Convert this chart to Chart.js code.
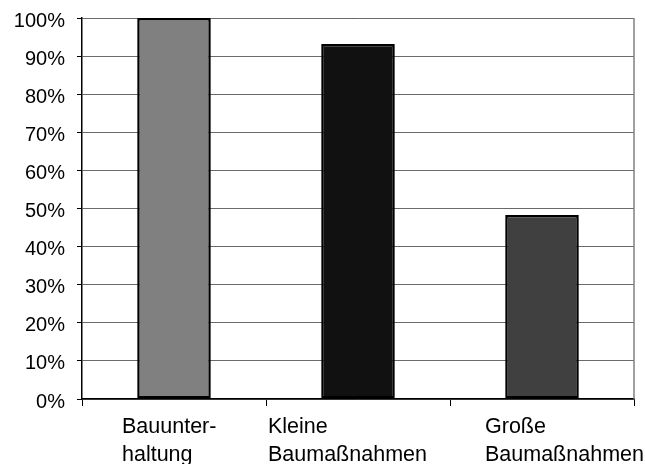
<!DOCTYPE html>
<html>
<head>
<meta charset="utf-8">
<script src="https://cdn.jsdelivr.net/npm/chart.js@4/dist/chart.umd.min.js"></script>
<style>
  html, body { margin: 0; padding: 0; background: #fff; }
  canvas { display: block; }
</style>
</head>
<body>
<canvas id="chart" width="645" height="464"></canvas>
<script>
// Categories (wrapped onto two lines) and their shares in percent
const categories = [
  ['Bauunter-', 'haltung'],
  ['Kleine', 'Baumaßnahmen'],
  ['Große', 'Baumaßnahmen']
];
const shares = [100, 93.2, 48.3];
const barColors = ['#808080', '#111111', '#404040'];
const yTicks = [0, 10, 20, 30, 40, 50, 60, 70, 80, 90, 100];

const FONT = '"Liberation Sans", Arial, sans-serif';

// Horizontal shift of each category label's left edge from its category centre
const labelShift = [-52, -90, -57];

const categoryLabels = {
  id: 'categoryLabels',
  afterDraw(chart) {
    const { ctx, scales: { x }, chartArea } = chart;
    ctx.save();
    ctx.font = '21.5px ' + FONT;
    ctx.fillStyle = '#000';
    ctx.textAlign = 'left';
    ctx.textBaseline = 'alphabetic';
    chart.data.labels.forEach((lines, i) => {
      const left = x.getPixelForTick(i) + labelShift[i];
      lines.forEach((line, j) => {
        ctx.fillText(line, left, chartArea.bottom + 34 + j * 28);
      });
    });
    ctx.restore();
  }
};

const rightFrame = {
  id: 'rightFrame',
  beforeDatasetsDraw(chart) {
    const { ctx, chartArea: a } = chart;
    ctx.save();
    ctx.strokeStyle = '#808080';
    ctx.lineWidth = 1.5;
    ctx.beginPath();
    ctx.moveTo(a.right, a.top);
    ctx.lineTo(a.right, a.bottom);
    ctx.stroke();
    ctx.restore();
  }
};

new Chart(document.getElementById('chart'), {
  type: 'bar',
  data: {
    labels: categories,
    datasets: [{
      data: shares,
      backgroundColor: barColors,
      borderColor: '#000',
      borderWidth: 2.5,
      borderSkipped: false,
      categoryPercentage: 1,
      barPercentage: 0.4
    }]
  },
  options: {
    responsive: false,
    animation: false,
    layout: { padding: { left: 0, right: 11, top: 18, bottom: 0 } },
    plugins: {
      legend: { display: false },
      tooltip: { enabled: false }
    },
    scales: {
      x: {
        offset: true,
        afterFit(scale) { scale.height = 65; },
        grid: {
          offset: true,
          drawOnChartArea: false,
          drawTicks: true,
          tickLength: 7,
          tickColor: '#000',
          lineWidth: 1
        },
        border: { display: true, color: '#000', width: 1.5 },
        ticks: { display: false }
      },
      y: {
        min: 0,
        max: 100,
        afterFit(scale) {
          scale.width = 82;
          scale.paddingTop = 0;
          scale.paddingBottom = 0;
        },
        afterBuildTicks(scale) { scale.ticks = yTicks.map(v => ({ value: v })); },
        grid: {
          color: '#6a6a6a',
          lineWidth: 1,
          tickLength: 5,
          tickColor: '#000'
        },
        border: { display: true, color: '#000', width: 1.5 },
        ticks: {
          padding: 12,
          labelOffset: 3,
          color: '#000',
          font: { family: FONT, size: 20 },
          callback: v => v + '%'
        }
      }
    }
  },
  plugins: [rightFrame, categoryLabels]
});
</script>
</body>
</html>
